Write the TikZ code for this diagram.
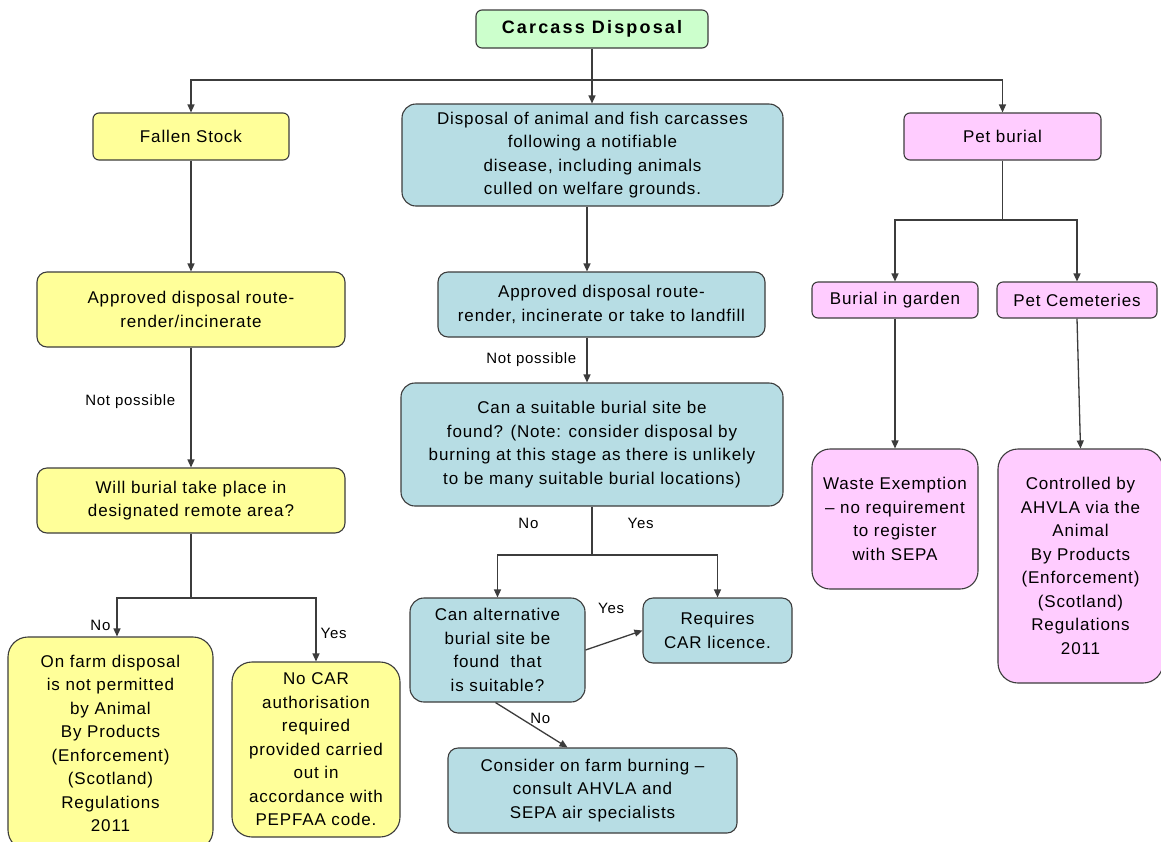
\documentclass[tikz,border=0pt]{standalone}
\usepackage{fontspec}
\setmainfont{Liberation Sans}[LetterSpace=5]
\usetikzlibrary{arrows.meta,positioning,calc}
\definecolor{ink}{RGB}{60,60,60}
\definecolor{headc}{RGB}{204,255,204}
\definecolor{fallc}{RGB}{255,255,153}
\definecolor{notifc}{RGB}{183,221,228}
\definecolor{petc}{RGB}{255,204,255}

\begin{document}
\begin{tikzpicture}[x=1pt,y=-1pt,font=\fontsize{17}{23.5}\selectfont]
\tikzset{box/.style={draw=ink,line width=1.1pt,rounded corners=6pt,align=center,inner sep=2pt},
  headbox/.style={box,fill=headc},fallbox/.style={box,fill=fallc},notifbox/.style={box,fill=notifc},petbox/.style={box,fill=petc},
  arr/.style={-{Triangle[length=8pt,width=7pt]},line width=1.3pt,draw=ink},link/.style={line width=1.3pt,draw=ink},
  lbl/.style={font=\fontsize{15}{18}\selectfont,inner sep=1pt}}
\useasboundingbox[fill=white] (0,0) rectangle (1161,841);
% top row
\node[headbox,minimum width=232,minimum height=38,font=\fontsize{18}{22}\selectfont\bfseries\addfontfeatures{LetterSpace=12}] (top) at (592,29) {Carcass Disposal};
\node[fallbox,minimum width=196,minimum height=47] (fallen) at (191,136.5) {Fallen Stock};
\node[notifbox,rounded corners=14pt,minimum width=381,minimum height=102] (notif) at (592.5,155) {Disposal of animal and fish carcasses\\following a notifiable\\disease, including animals\\culled on welfare grounds.};
\node[petbox,minimum width=197,minimum height=47] (pet) at (1002.5,136.5) {Pet burial};
% fallen stock branch
\node[fallbox,rounded corners=10pt,minimum width=308,minimum height=75] (routeA) at (191,309.5) {Approved disposal route-\\render/incinerate};
\node[fallbox,rounded corners=10pt,minimum width=308,minimum height=65] (remote) at (191,500.5) {Will burial take place in\\designated remote area?};
\node[fallbox,rounded corners=20pt,minimum width=205,minimum height=213] (onfarm) at (110.5,743.5) {On farm disposal\\is not permitted\\by Animal\\By Products\\(Enforcement)\\(Scotland)\\Regulations\\2011};
\node[fallbox,rounded corners=20pt,minimum width=168,minimum height=175] (nocar) at (316,749.5) {No CAR\\authorisation\\required\\provided carried\\out in\\accordance with\\PEPFAA code.};
% notifiable disease branch
\node[notifbox,rounded corners=10pt,minimum width=327,minimum height=65] (routeB) at (601.5,304.5) {Approved disposal route-\\render, incinerate or take to landfill};
\node[notifbox,rounded corners=14pt,minimum width=382,minimum height=123] (site) at (592,444.5) {Can a suitable burial site be\\found? (Note: consider disposal by\\burning at this stage as there is unlikely\\to be many suitable burial locations)};
\node[notifbox,rounded corners=14pt,minimum width=175,minimum height=104] (altsite) at (497.5,650) {Can alternative\\burial site be\\found\ \ that\\is suitable?};
\node[notifbox,rounded corners=10pt,minimum width=149,minimum height=65] (licence) at (717.5,630.5) {Requires\\CAR licence.};
\node[notifbox,rounded corners=10pt,minimum width=289,minimum height=85] (burning) at (592.5,790.5) {Consider on farm burning –\\consult AHVLA and\\SEPA air specialists};
% pet burial branch
\node[petbox,minimum width=166,minimum height=36] (garden) at (895,300) {Burial in garden};
\node[petbox,minimum width=160,minimum height=36] (cemetery) at (1077,300) {Pet Cemeteries};
\node[petbox,rounded corners=18pt,minimum width=166,minimum height=140] (exempt) at (895,519) {Waste Exemption\\– no requirement\\to register\\with SEPA};
\node[petbox,rounded corners=20pt,minimum width=165,minimum height=234] (ahvla) at (1080.5,566) {Controlled by\\AHVLA via the\\Animal\\By Products\\(Enforcement)\\(Scotland)\\Regulations\\2011};
% connectors
\coordinate (s1) at (592,80);
\coordinate (s2) at (191,598);
\coordinate (s3) at (592,555);
\coordinate (s4) at (1002.5,220);
\draw[arr] (top.south) -- (top.south |- notif.north);
\draw[arr] (s1) -| (fallen.north);
\draw[arr] (s1) -| (pet.north);
\draw[arr] (fallen) -- (routeA);
\draw[arr] (routeA) -- node[lbl,left=14pt,pos=0.45] {Not possible} (remote);
\draw[link] (remote) -- (s2);
\draw[arr] (s2) -| node[lbl,pos=0.85,left=5pt] {No} ([xshift=6.5pt]onfarm.north);
\draw[arr] (s2) -| node[lbl,pos=0.78,right=3pt] {Yes} (nocar.north);
\draw[arr] ([xshift=-5.5pt]notif.south) -- ([xshift=-14.5pt]routeB.north);
\draw[arr] ([xshift=-14.5pt]routeB.south) -- node[lbl,left=9pt] {Not possible} ([xshift=-5pt]site.north);
\draw[link] (site) -- node[lbl,pos=0.35,left=52pt] {No} node[lbl,pos=0.35,right=34pt] {Yes} (s3);
\draw[arr] (s3) -| (altsite.north);
\draw[arr] (s3) -| (licence.north);
\draw[arr] (altsite.east) -- node[lbl,pos=0.45,above=26pt] {Yes} (licence.west);
\draw[arr] ([xshift=-2pt]altsite.south) -- node[lbl,pos=0.35,right=8pt] {No} ([xshift=-25pt]burning.north);
\draw[link] (pet) -- (s4);
\draw[arr] (s4) -| (garden.north);
\draw[arr] (s4) -| (cemetery.north);
\draw[arr] (garden) -- (exempt);
\draw[arr] (cemetery.south) -- (ahvla.north);
\end{tikzpicture}
\end{document}
